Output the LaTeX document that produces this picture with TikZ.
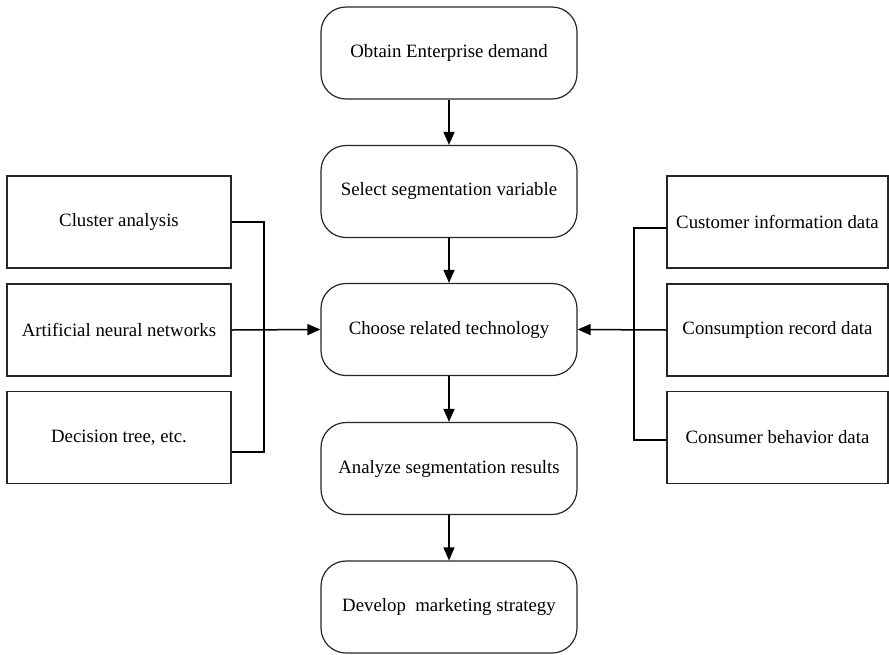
\documentclass[tikz,border=0pt]{standalone}
\usepackage{fontspec}
\setmainfont{Liberation Serif}
\usetikzlibrary{arrows.meta}
\begin{document}
\begin{tikzpicture}[x=1pt,y=-1pt,
  font=\fontsize{18.8}{22}\selectfont,
  mainbox/.style={draw=black!85, line width=1.2pt, rounded corners=25pt, minimum width=256pt, minimum height=92pt, inner sep=0pt, align=center},
  sidebox/.style={draw=black!85, line width=1.2pt, minimum height=92pt, inner sep=0pt, align=center},
  conn/.style={draw=black, line width=1.5pt},
  arr/.style={conn, -{Triangle[length=13pt,width=11pt]}}]
\useasboundingbox (0,0) rectangle (889,654);
% main column
\node[mainbox] (s1) at (449,53) {Obtain Enterprise demand};
\node[mainbox] (s2) at (449,191.5) {Select segmentation variable};
\node[mainbox] (s3) at (449,329.5) {Choose related technology};
\node[mainbox] (s4) at (449,468.5) {Analyze segmentation results};
\node[mainbox] (s5) at (449,607) {Develop\ \ marketing strategy};
% left column
\node[sidebox, minimum width=224pt] (la) at (119,222) {Cluster analysis};
\node[sidebox, minimum width=224pt] (lb) at (119,330) {Artificial neural networks};
\node[sidebox, minimum width=224pt] (lc) at (119,437.5) {Decision tree, etc.};
% right column
\node[sidebox, minimum width=221pt] (ra) at (777.5,222) {Customer information data};
\node[sidebox, minimum width=221pt] (rb) at (777.5,330) {Consumption record data};
\node[sidebox, minimum width=221pt] (rc) at (777.5,437.5) {Consumer behavior data};
% vertical arrows
\draw[arr] (s1.south) -- (s2.north);
\draw[arr] (s2.south) -- (s3.north);
\draw[arr] (s3.south) -- (s4.north);
\draw[arr] (s4.south) -- (s5.north);
% left bracket
\coordinate (l1) at (264,222);
\coordinate (l2) at (264,452);
\draw[conn] (la.east) -- (l1) -- (l2) -- (lc.east |- l2);
\draw[arr] (lb.east) -- (s3.west);
% right bracket
\coordinate (r1) at (634,228);
\coordinate (r2) at (634,440);
\draw[conn] (ra.west |- r1) -- (r1) -- (r2) -- (rc.west |- r2);
\draw[arr] (rb.west) -- (s3.east);
\end{tikzpicture}
\end{document}
